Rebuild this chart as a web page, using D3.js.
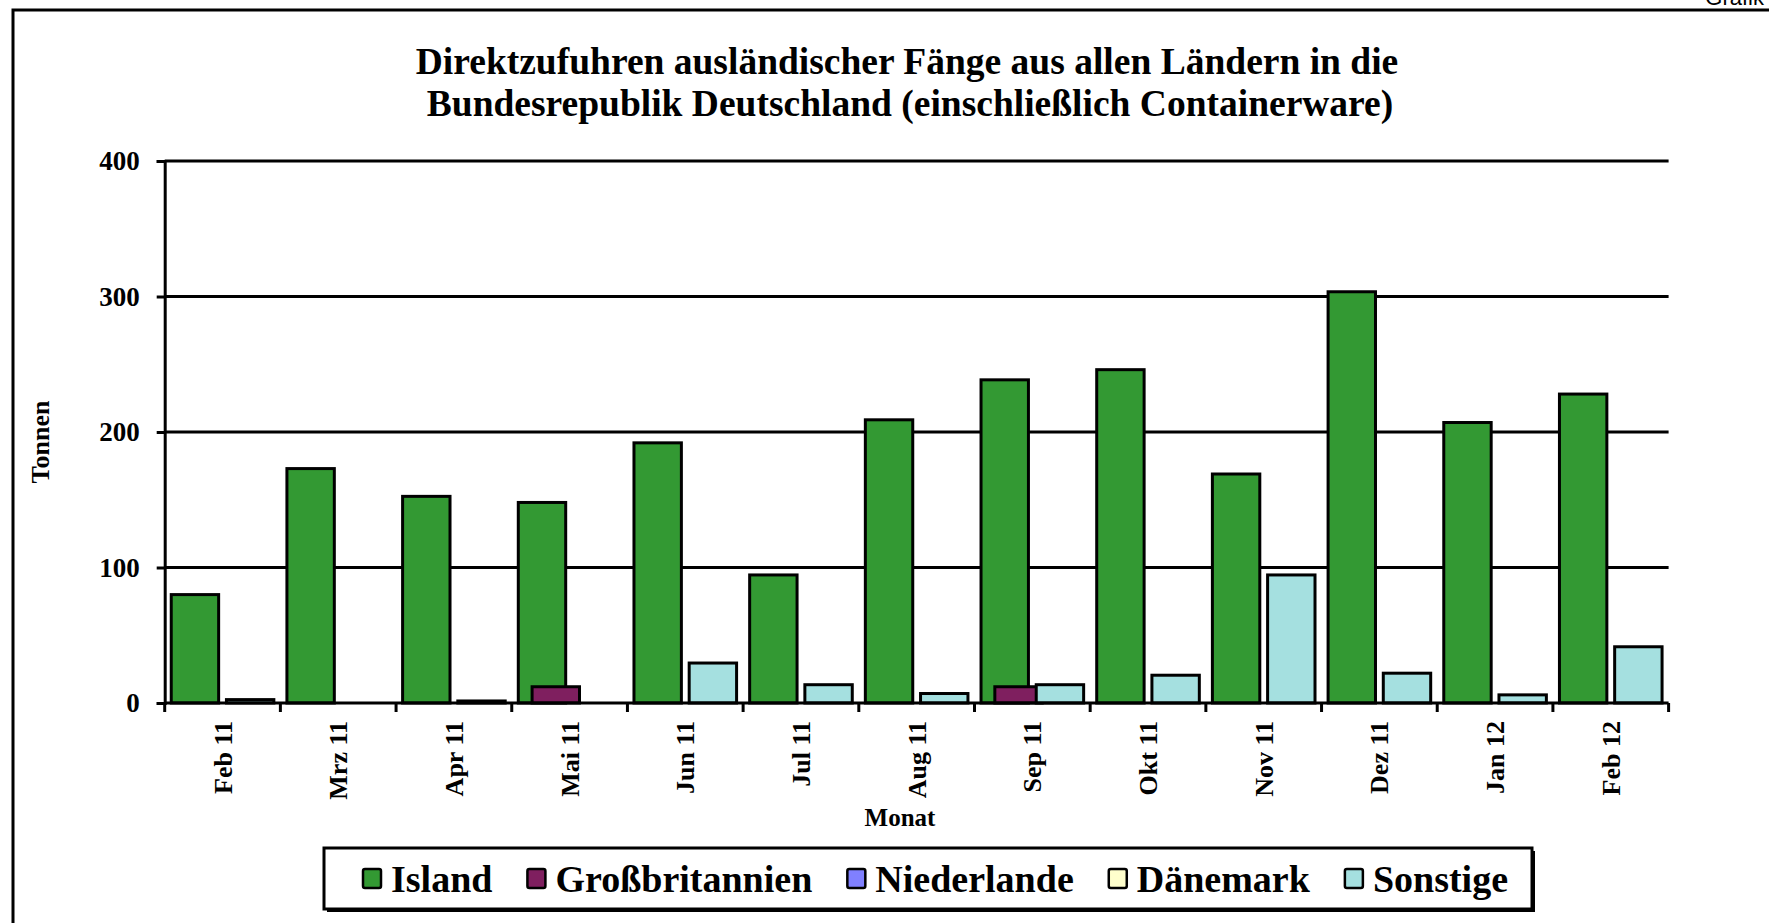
<!DOCTYPE html>
<html>
<head>
<meta charset="utf-8">
<script src="https://cdn.jsdelivr.net/npm/d3@7"></script>
<style>
    body { margin: 0; background: #fff; }
    text { font-family: 'Liberation Serif', 'Times New Roman', serif; font-weight: bold; }
</style>
</head>
<body>
<div id="chart"></div>
<script>
var months = ['Feb 11', 'Mrz 11', 'Apr 11', 'Mai 11', 'Jun 11', 'Jul 11', 'Aug 11',
    'Sep 11', 'Okt 11', 'Nov 11', 'Dez 11', 'Jan 12', 'Feb 12'];
var seriesNames = ['Island', 'Großbritannien', 'Niederlande', 'Dänemark', 'Sonstige'];
var island = [80, 173, 152.5, 148, 192, 94.5, 209, 238.5, 246, 169, 303.5, 207, 228];
var grossbritannien = [0, 0, 0, 12, 0, 0, 0, 12, 0, 0, 0, 0, 0];
var niederlande = [0, 0, 0, 0, 0, 0, 0, 0, 0, 0, 0, 0, 0];
var daenemark = [0, 0, 0, 0, 0, 0, 0, 0, 0, 0, 0, 0, 0];
var sonstige = [2.5, 0, 1.5, 0, 29.5, 13.5, 7, 13.5, 20.5, 94.5, 22, 6, 41.5];
var yTicks = [0, 100, 200, 300, 400];
var colors = ['#339933', '#7f1f5f', '#8080ff', '#ffffcc', '#a5e0e0'];

var seriesValues = [island, grossbritannien, niederlande, daenemark, sonstige];

var width = 1769,
    height = 923;
var plot = { left: 164.7, right: 1668.6, top: 161, bottom: 703 };

var svg = d3.select('#chart')
    .append('svg')
    .attr('width', width)
    .attr('height', height);

// outer frame, runs off the page at right and bottom
svg.append('rect')
    .attr('x', 13)
    .attr('y', 10)
    .attr('width', 1900)
    .attr('height', 1000)
    .attr('fill', 'none')
    .attr('stroke', '#000')
    .attr('stroke-width', 3);

svg.append('text')
    .attr('x', 1764)
    .attr('y', 5)
    .attr('text-anchor', 'end')
    .style('font-family', "'Liberation Sans', Arial, sans-serif")
    .style('font-weight', 'normal')
    .style('font-size', '22px')
    .text('Grafik');

// title
var title = svg.append('text')
    .attr('text-anchor', 'middle')
    .style('font-size', '37.5px');
title.append('tspan')
    .attr('x', 907)
    .attr('y', 74)
    .text('Direktzufuhren ausländischer Fänge aus allen Ländern in die');
title.append('tspan')
    .attr('x', 910)
    .attr('y', 116)
    .text('Bundesrepublik Deutschland (einschließlich Containerware)');

var y = d3.scaleLinear()
    .domain([0, 400])
    .range([plot.bottom, plot.top]);

var x0 = d3.scaleBand()
    .domain(months)
    .range([plot.left, plot.right])
    .paddingInner(0.113)
    .paddingOuter(0.0565);

var barW = x0.bandwidth() * 0.462;

var x1 = d3.scalePoint()
    .domain(seriesNames)
    .range([0, x0.bandwidth() - barW]);

var color = d3.scaleOrdinal(seriesNames, colors);

// gridlines
svg.append('g')
    .selectAll('line')
    .data(yTicks.filter(function(d) { return d > 0; }))
    .enter()
    .append('line')
    .attr('x1', plot.left)
    .attr('x2', plot.right)
    .attr('y1', function(d) { return y(d); })
    .attr('y2', function(d) { return y(d); })
    .attr('stroke', '#000')
    .attr('stroke-width', 3);

// bars, series drawn in order so later ones sit on top
var rows = [];
seriesNames.forEach(function(s, si) {
    months.forEach(function(m, mi) {
        var v = seriesValues[si][mi];
        if (v > 0) rows.push({ series: s, month: m, value: v });
    });
});

svg.append('g')
    .selectAll('rect')
    .data(rows)
    .enter()
    .append('rect')
    .attr('x', function(d) { return x0(d.month) + x1(d.series); })
    .attr('y', function(d) { return y(d.value); })
    .attr('width', barW)
    .attr('height', function(d) { return y(0) - y(d.value); })
    .attr('fill', function(d) { return color(d.series); })
    .attr('stroke', '#000')
    .attr('stroke-width', 3);

// y axis
var yAxis = svg.append('g')
    .attr('transform', 'translate(' + plot.left + ',0)')
    .call(d3.axisLeft(y).tickValues(yTicks).tickSize(8).tickPadding(17));
yAxis.select('.domain').attr('stroke-width', 3);
yAxis.selectAll('.tick line').attr('stroke-width', 3);
yAxis.selectAll('.tick text')
    .style('font-size', '27px')
    .attr('fill', '#000');

// x axis: line plus ticks at category borders
svg.append('line')
    .attr('x1', plot.left)
    .attr('x2', plot.right)
    .attr('y1', y(0))
    .attr('y2', y(0))
    .attr('stroke', '#000')
    .attr('stroke-width', 3);

svg.append('g')
    .selectAll('line')
    .data(d3.range(months.length + 1))
    .enter()
    .append('line')
    .attr('x1', function(i) { return plot.left + i * x0.step(); })
    .attr('x2', function(i) { return plot.left + i * x0.step(); })
    .attr('y1', y(0))
    .attr('y2', y(0) + 9)
    .attr('stroke', '#000')
    .attr('stroke-width', 3);

svg.append('g')
    .selectAll('text')
    .data(months)
    .enter()
    .append('text')
    .attr('transform', function(d) {
        return 'translate(' + (x0(d) + x0.bandwidth() / 2) + ',' + 721 + ') rotate(-90)';
    })
    .attr('text-anchor', 'end')
    .attr('dy', '0.35em')
    .style('font-size', '26px')
    .text(function(d) { return d; });

// axis titles
svg.append('text')
    .attr('x', 900)
    .attr('y', 826)
    .attr('text-anchor', 'middle')
    .style('font-size', '25px')
    .text('Monat');

svg.append('text')
    .attr('transform', 'translate(40,442) rotate(-90)')
    .attr('text-anchor', 'middle')
    .attr('dy', '0.35em')
    .style('font-size', '26px')
    .text('Tonnen');

// legend
var legendBox = { x: 324, y: 848, w: 1208, h: 61 };
svg.append('rect')
    .attr('x', legendBox.x + 3)
    .attr('y', legendBox.y + 3)
    .attr('width', legendBox.w)
    .attr('height', legendBox.h)
    .attr('fill', '#000');
svg.append('rect')
    .attr('x', legendBox.x)
    .attr('y', legendBox.y)
    .attr('width', legendBox.w)
    .attr('height', legendBox.h)
    .attr('fill', '#fff')
    .attr('stroke', '#000')
    .attr('stroke-width', 3);

var legendX = 363;
seriesNames.forEach(function(s) {
    var g = svg.append('g').attr('class', 'legend');
    g.append('rect')
        .attr('x', legendX)
        .attr('y', 869)
        .attr('width', 18)
        .attr('height', 19)
        .attr('rx', 2)
        .attr('fill', color(s))
        .attr('stroke', '#000')
        .attr('stroke-width', 2.5);
    var t = g.append('text')
        .attr('x', legendX + 28)
        .attr('y', 892)
        .style('font-size', '38px')
        .text(s);
    legendX += 28 + t.node().getComputedTextLength() + 35;
});
</script>
</body>
</html>
